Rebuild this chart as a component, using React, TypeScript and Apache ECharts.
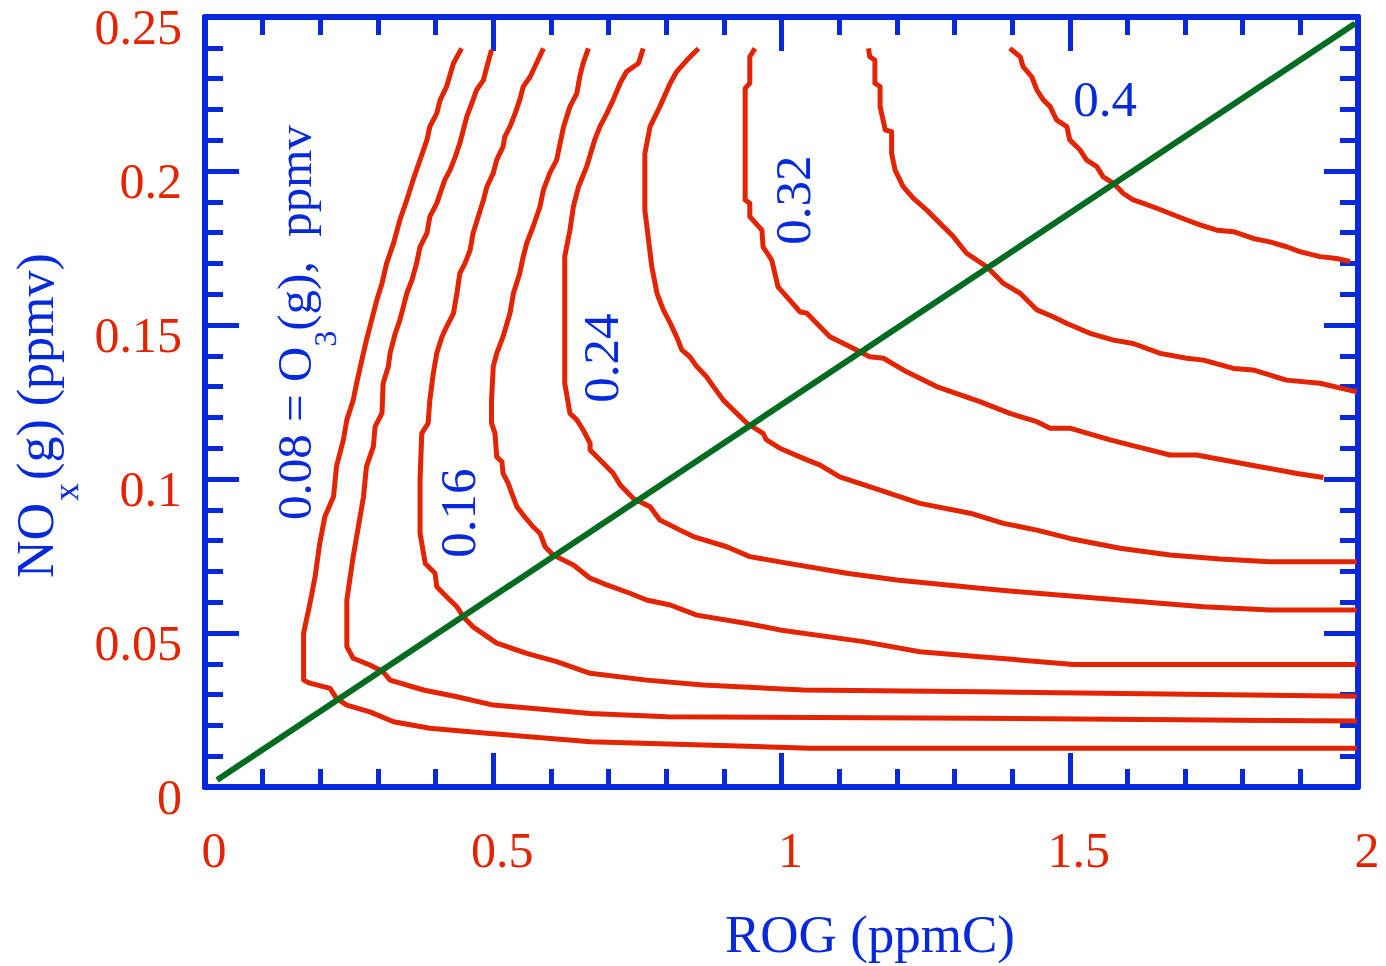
import React, { useEffect, useRef } from "react";
import * as echarts from "echarts";

const BLUE = "#0629dc";
const RED = "#e32400";
const GREEN = "#006b21";
const FONT = "'Liberation Serif', 'Times New Roman', serif";

const xTickValues = [0, 0.5, 1, 1.5, 2];
const yTickValues = [0, 0.05, 0.1, 0.15, 0.2, 0.25];
const xTitle = "ROG (ppmC)";
const contourLevels = ["0.08", "0.12", "0.16", "0.20", "0.24", "0.28", "0.32", "0.36", "0.40"];

const iso008: number[][] = [
  [0.445, 0.2398], [0.431, 0.235], [0.419, 0.2274], [0.408, 0.2231], [0.402, 0.2187], [0.39, 0.2144],
  [0.385, 0.2101], [0.373, 0.2036], [0.361, 0.1971], [0.35, 0.1906], [0.338, 0.1841], [0.327, 0.1765],
  [0.315, 0.17], [0.307, 0.1635], [0.298, 0.1581], [0.289, 0.1516], [0.28, 0.1451], [0.272, 0.1386],
  [0.263, 0.1311], [0.257, 0.1256], [0.246, 0.1192], [0.24, 0.1127], [0.228, 0.104], [0.223, 0.0943],
  [0.208, 0.0878], [0.199, 0.0791], [0.191, 0.0683], [0.182, 0.0596], [0.171, 0.0499], [0.171, 0.0347],
  [0.182, 0.0337], [0.217, 0.032], [0.228, 0.0288], [0.246, 0.0266], [0.286, 0.0244], [0.327, 0.0212],
  [0.39, 0.0191], [0.494, 0.0174], [0.668, 0.0147], [1.049, 0.0126], [1.998, 0.0126],
];
const iso012: number[][] = [
  [0.497, 0.2393], [0.489, 0.2339], [0.483, 0.2295], [0.471, 0.2263], [0.465, 0.2231], [0.454, 0.2176],
  [0.448, 0.2133], [0.442, 0.209], [0.434, 0.2046], [0.425, 0.2003], [0.416, 0.1971], [0.408, 0.1928],
  [0.402, 0.1895], [0.39, 0.1852], [0.385, 0.1798], [0.373, 0.1754], [0.367, 0.17], [0.359, 0.1646],
  [0.35, 0.1603], [0.344, 0.1559], [0.338, 0.1516], [0.33, 0.1473], [0.321, 0.1408], [0.318, 0.1365],
  [0.309, 0.1311], [0.307, 0.1214], [0.295, 0.117], [0.292, 0.1105], [0.28, 0.104], [0.275, 0.0943],
  [0.266, 0.0845], [0.257, 0.0748], [0.246, 0.0607], [0.246, 0.0456], [0.257, 0.0418], [0.286, 0.0396],
  [0.309, 0.0374], [0.321, 0.0347], [0.379, 0.0315], [0.437, 0.0293], [0.5, 0.0266], [0.668, 0.0239],
  [0.801, 0.0228], [1.344, 0.0223], [1.998, 0.0214],
];
const iso016: number[][] = [
  [0.587, 0.2398], [0.575, 0.235], [0.564, 0.2306], [0.552, 0.2274], [0.546, 0.2231], [0.538, 0.2187],
  [0.529, 0.2144], [0.52, 0.2111], [0.517, 0.2079], [0.506, 0.2036], [0.5, 0.1993], [0.489, 0.1949],
  [0.483, 0.1906], [0.474, 0.1852], [0.465, 0.1798], [0.46, 0.1744], [0.451, 0.17], [0.442, 0.1668],
  [0.437, 0.1603], [0.431, 0.1538], [0.419, 0.1494], [0.411, 0.1462], [0.402, 0.1408], [0.396, 0.1343],
  [0.39, 0.1256], [0.387, 0.1181], [0.376, 0.1148], [0.373, 0.0997], [0.373, 0.0824], [0.382, 0.0726],
  [0.399, 0.0694], [0.402, 0.065], [0.419, 0.0618], [0.437, 0.0585], [0.448, 0.0553], [0.465, 0.052],
  [0.506, 0.0467], [0.558, 0.0434], [0.61, 0.0407], [0.668, 0.0369], [0.766, 0.0347], [0.864, 0.0331],
  [1.038, 0.0315], [1.344, 0.0309], [1.998, 0.0295],
];
const iso020: number[][] = [
  [0.665, 0.2398], [0.656, 0.235], [0.65, 0.2306], [0.645, 0.2252], [0.633, 0.2209], [0.622, 0.2144],
  [0.616, 0.209], [0.61, 0.2036], [0.598, 0.1993], [0.587, 0.1938], [0.581, 0.1884], [0.569, 0.1819],
  [0.558, 0.1765], [0.552, 0.1722], [0.546, 0.1668], [0.535, 0.1603], [0.529, 0.1538], [0.517, 0.1462],
  [0.506, 0.1408], [0.5, 0.1365], [0.497, 0.1256], [0.497, 0.1181], [0.503, 0.1148], [0.506, 0.1072],
  [0.515, 0.1056], [0.517, 0.1018], [0.526, 0.0986], [0.532, 0.0954], [0.541, 0.091], [0.552, 0.0883],
  [0.569, 0.0845], [0.581, 0.0824], [0.59, 0.078], [0.604, 0.0753], [0.639, 0.0721], [0.668, 0.0678],
  [0.697, 0.0656], [0.737, 0.0629], [0.766, 0.0607], [0.807, 0.0591], [0.853, 0.0558], [0.94, 0.0531],
  [0.997, 0.051], [1.142, 0.0472], [1.24, 0.0439], [1.344, 0.0423], [1.506, 0.0398], [1.998, 0.0398],
];
const iso024: number[][] = [
  [0.76, 0.2398], [0.752, 0.235], [0.731, 0.2322], [0.72, 0.2285], [0.708, 0.2231], [0.697, 0.2187],
  [0.685, 0.2144], [0.676, 0.2101], [0.662, 0.2014], [0.648, 0.1949], [0.639, 0.1884], [0.633, 0.1808],
  [0.624, 0.1722], [0.624, 0.1311], [0.633, 0.1213], [0.645, 0.1192], [0.656, 0.1159], [0.668, 0.1116],
  [0.668, 0.1094], [0.691, 0.1051], [0.708, 0.1019], [0.72, 0.0981], [0.743, 0.0937], [0.772, 0.091],
  [0.789, 0.0867], [0.824, 0.0834], [0.847, 0.0813], [0.905, 0.078], [0.945, 0.0748], [0.997, 0.0731],
  [1.113, 0.0694], [1.2, 0.0672], [1.344, 0.0645], [1.443, 0.0629], [1.587, 0.0607], [1.732, 0.0585],
  [1.847, 0.0575], [1.998, 0.0575],
];
const iso028: number[][] = [
  [0.856, 0.2398], [0.836, 0.236], [0.818, 0.2322], [0.807, 0.2285], [0.789, 0.2209], [0.772, 0.2144],
  [0.763, 0.2057], [0.763, 0.1873], [0.775, 0.1689], [0.784, 0.1603], [0.795, 0.1549], [0.807, 0.1506],
  [0.818, 0.1462], [0.827, 0.1419], [0.841, 0.1397], [0.853, 0.1365], [0.87, 0.1332], [0.882, 0.13],
  [0.899, 0.1256], [0.94, 0.1181], [0.968, 0.1148], [0.974, 0.1127], [0.997, 0.11], [1.044, 0.1062],
  [1.067, 0.1045], [1.101, 0.1007], [1.171, 0.0964], [1.24, 0.0921], [1.327, 0.0889], [1.385, 0.0856],
  [1.443, 0.0834], [1.5, 0.0807], [1.587, 0.0775], [1.674, 0.0753], [1.761, 0.074], [1.847, 0.0731],
  [1.998, 0.0731],
];
const iso032: number[][] = [
  [0.954, 0.2398], [0.945, 0.2371], [0.945, 0.2285], [0.937, 0.2268], [0.937, 0.1906], [0.945, 0.1895],
  [0.945, 0.1852], [0.966, 0.1808], [0.968, 0.1754], [0.983, 0.1711], [0.994, 0.1624], [1.009, 0.1592],
  [1.032, 0.1543], [1.044, 0.1538], [1.067, 0.1494], [1.084, 0.1462], [1.113, 0.1435], [1.13, 0.1419],
  [1.153, 0.1397], [1.177, 0.1392], [1.217, 0.1348], [1.269, 0.13], [1.344, 0.1251], [1.396, 0.1213],
  [1.443, 0.1186], [1.466, 0.1165], [1.5, 0.1165], [1.57, 0.1127], [1.616, 0.1105], [1.674, 0.1078],
  [1.72, 0.1078], [1.83, 0.104], [1.894, 0.1018], [1.94, 0.1005],
];
const iso036: number[][] = [
  [1.151, 0.2398], [1.153, 0.2371], [1.162, 0.236], [1.162, 0.2285], [1.171, 0.2274], [1.171, 0.2209],
  [1.18, 0.2133], [1.191, 0.2128], [1.191, 0.2057], [1.197, 0.2003], [1.211, 0.1949], [1.229, 0.1911],
  [1.252, 0.1873], [1.275, 0.183], [1.298, 0.1787], [1.321, 0.1733], [1.356, 0.1689], [1.385, 0.1635],
  [1.414, 0.1603], [1.443, 0.1549], [1.471, 0.1527], [1.495, 0.1505], [1.535, 0.1473], [1.576, 0.1451],
  [1.61, 0.144], [1.657, 0.1408], [1.703, 0.1392], [1.732, 0.1386], [1.784, 0.1359], [1.818, 0.1354],
  [1.876, 0.1321], [1.934, 0.1311], [1.998, 0.1283],
];
const iso040: number[][] = [
  [1.396, 0.2398], [1.414, 0.2371], [1.419, 0.2339], [1.434, 0.2306], [1.443, 0.2263], [1.454, 0.2231],
  [1.466, 0.2209], [1.477, 0.2166], [1.495, 0.2144], [1.5, 0.2101], [1.518, 0.2068], [1.529, 0.2036],
  [1.547, 0.2014], [1.558, 0.1981], [1.576, 0.196], [1.593, 0.1927], [1.61, 0.1906], [1.628, 0.1895],
  [1.651, 0.1879], [1.674, 0.1862], [1.703, 0.1841], [1.726, 0.1825], [1.755, 0.1808], [1.784, 0.1803],
  [1.818, 0.1781], [1.847, 0.177], [1.876, 0.1754], [1.899, 0.1738], [1.934, 0.1722], [1.963, 0.1716],
  [1.986, 0.1706],
];
const ratioLine: number[][] = [
  [0.021, 0.0023],
  [1.995, 0.2479],
];

const contours = [iso008, iso012, iso016, iso020, iso024, iso028, iso032, iso036, iso040];

function measure(text: string, size: number): number {
  const ctx = document.createElement("canvas").getContext("2d");
  if (!ctx) return text.length * size * 0.5;
  ctx.font = `${size}px 'Liberation Serif'`;
  return ctx.measureText(text).width;
}

export default function App() {
  const ref = useRef<HTMLDivElement>(null);
  useEffect(() => {
    if (!ref.current) return;
    const chart = echarts.init(ref.current, undefined, { renderer: "svg" });

    const tickStyle = { color: BLUE, width: 5 };
    const baseX = {
      type: "value" as const,
      min: xTickValues[0],
      max: xTickValues[xTickValues.length - 1],
      interval: xTickValues[1] - xTickValues[0],
      axisLine: { show: true, onZero: false, lineStyle: { color: BLUE, width: 6 } },
      axisTick: { show: true, inside: true, length: 34, lineStyle: tickStyle },
      minorTick: { show: true, splitNumber: 5, length: 18, lineStyle: tickStyle },
      splitLine: { show: false },
      minorSplitLine: { show: false },
    };
    const baseY = {
      type: "value" as const,
      min: yTickValues[0],
      max: yTickValues[yTickValues.length - 1],
      interval: yTickValues[1] - yTickValues[0],
      axisLine: { show: true, onZero: false, lineStyle: { color: BLUE, width: 6 } },
      axisTick: { show: true, inside: true, length: 34, lineStyle: tickStyle },
      minorTick: { show: true, splitNumber: 5, length: 18, lineStyle: tickStyle },
      splitLine: { show: false },
      minorSplitLine: { show: false },
    };

    const labelFont = 49;
    const w1 = measure("0.08 = O", labelFont);
    const wSub = measure("3", 32);
    const titleFont = 52;
    const wNO = measure("NO", titleFont);
    const wX = measure("x", 36);

    const textStyle = (text: string, size: number, align = "center") => ({
      text,
      fontSize: size,
      fontFamily: FONT,
      fill: BLUE,
      align,
      verticalAlign: "middle",
    });

    chart.setOption({
      animation: false,
      backgroundColor: "#ffffff",
      grid: { left: 205, top: 17, width: 1153, height: 770, containLabel: false },
      xAxis: [
        {
          ...baseX,
          position: "bottom",
          axisLabel: {
            show: true,
            margin: 38,
            fontSize: 50,
            fontFamily: FONT,
            color: RED,
            padding: [0, 0, 0, 18],
          },
        },
        { ...baseX, position: "top", axisLabel: { show: false } },
      ],
      yAxis: [
        {
          ...baseY,
          position: "left",
          axisLabel: {
            show: true,
            margin: 23,
            fontSize: 50,
            fontFamily: FONT,
            color: RED,
            verticalAlign: "top",
            lineHeight: 20,
          },
        },
        { ...baseY, position: "right", axisLabel: { show: false } },
      ],
      series: [
        ...contours.map((d, i) => ({
          name: contourLevels[i],
          type: "line",
          xAxisIndex: 0,
          yAxisIndex: 0,
          data: d,
          symbol: "none",
          showSymbol: false,
          silent: true,
          lineStyle: { color: RED, width: 5, join: "round" },
          z: 2,
        })),
        {
          name: "ratio",
          type: "line",
          xAxisIndex: 0,
          yAxisIndex: 0,
          data: ratioLine,
          symbol: "none",
          showSymbol: false,
          silent: true,
          lineStyle: { color: GREEN, width: 6 },
          z: 3,
        },
      ],
      graphic: [
        { type: "text", x: 870, y: 934, style: textStyle(xTitle, 53) },
        {
          type: "group",
          x: 35,
          y: 578,
          rotation: Math.PI / 2,
          children: [
            { type: "text", x: 0, y: 0, style: textStyle("NO", titleFont, "left") },
            { type: "text", x: wNO + 2, y: 31, style: textStyle("x", 36, "left") },
            { type: "text", x: wNO + wX + 5, y: 0, style: textStyle("(g) (ppmv)", titleFont, "left") },
          ],
        },
        {
          type: "group",
          x: 294,
          y: 520,
          rotation: Math.PI / 2,
          children: [
            { type: "text", x: 0, y: 0, style: textStyle("0.08 = O", labelFont, "left") },
            { type: "text", x: w1, y: 31, style: textStyle("3", 32, "left") },
            { type: "text", x: w1 + wSub, y: 0, style: textStyle("(g),  ppmv", labelFont, "left") },
          ],
        },
        { type: "text", x: 458, y: 513, rotation: Math.PI / 2, style: textStyle(contourLevels[2], 51) },
        { type: "text", x: 601, y: 358, rotation: Math.PI / 2, style: textStyle(contourLevels[4], 51) },
        { type: "text", x: 793, y: 200, rotation: Math.PI / 2, style: textStyle(contourLevels[6], 51) },
        { type: "text", x: 1105, y: 99, style: textStyle("0.4", 51) },
      ],
    });
    return () => chart.dispose();
  }, []);

  return (
    <div
      ref={ref}
      style={{ position: "fixed", left: 0, top: 0, width: 1386, height: 966, background: "#fff" }}
    />
  );
}
